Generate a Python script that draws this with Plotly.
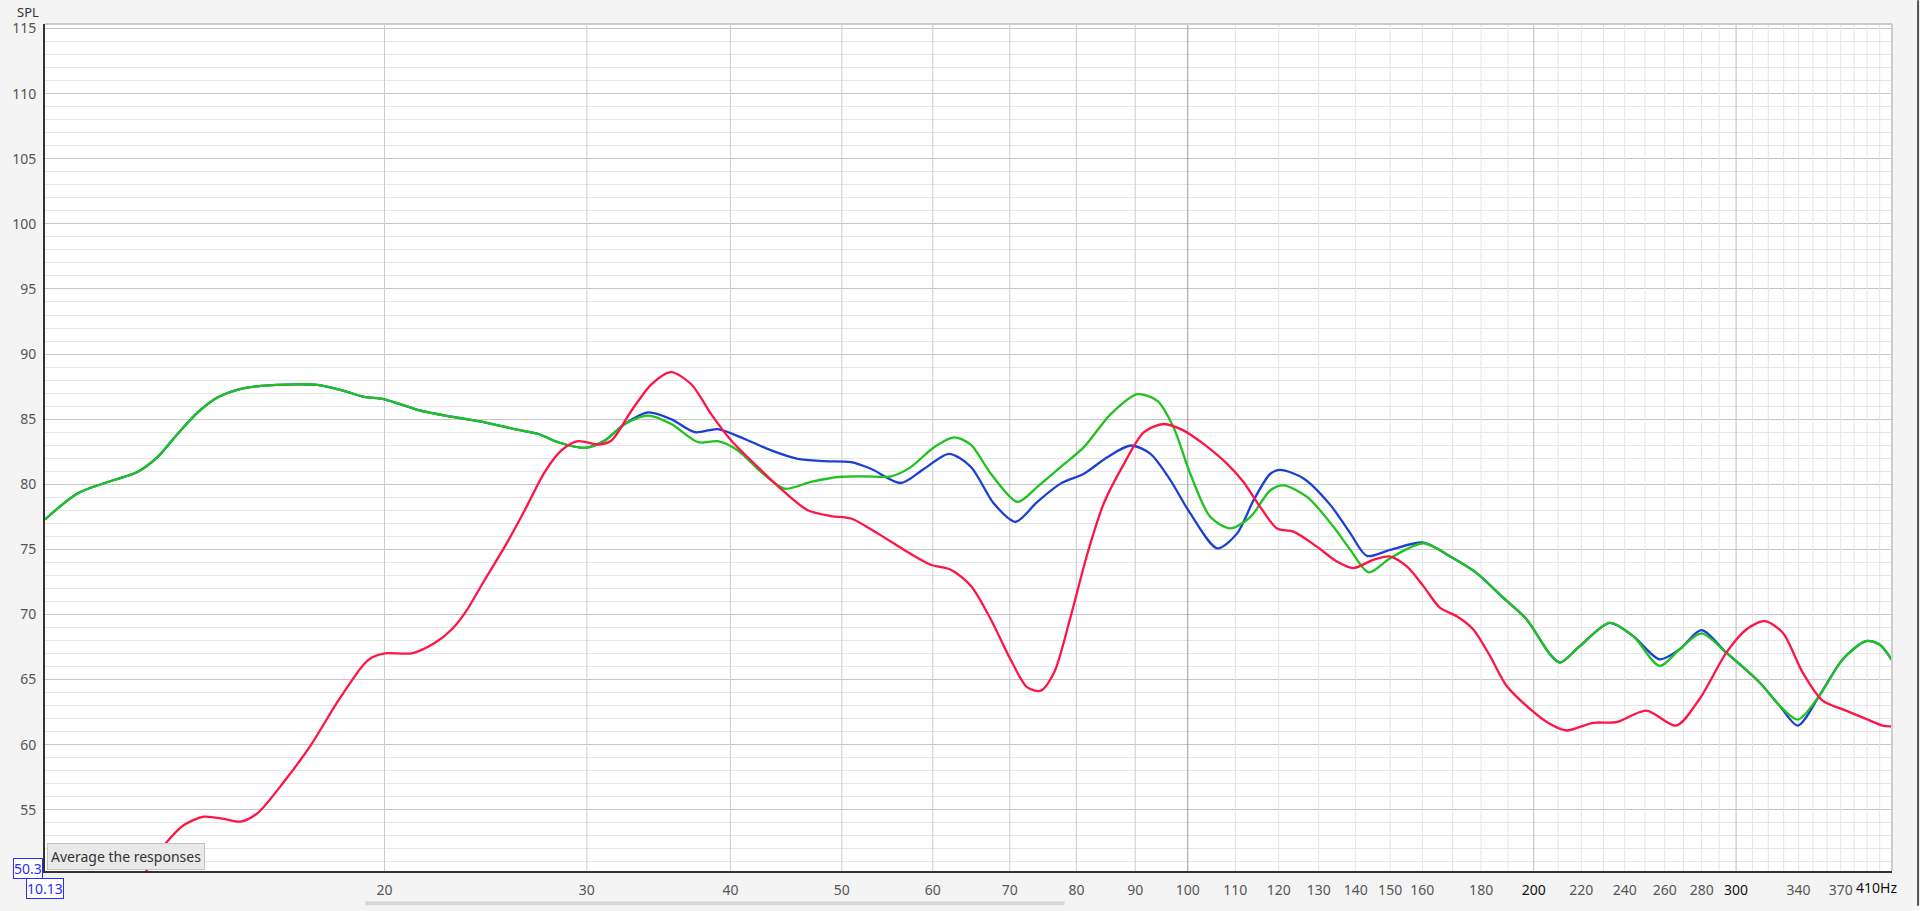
import math
import plotly.graph_objects as go

# ---------------- data ----------------
# shared low-frequency part of the blue and green responses
shared_freq = [10.13, 10.81, 11.56, 12.19, 12.69, 13.21, 13.75, 14.31, 14.89, 15.61,
               16.79, 17.48, 18.44, 19.19, 20.0, 21.41, 22.88, 24.45, 26.15, 27.22,
               28.32, 29.88, 31.1, 32.36]
shared_db = [77.3, 79.3, 80.25, 80.94, 82.08, 83.86, 85.5, 86.66, 87.25, 87.56,
             87.68, 87.63, 87.18, 86.72, 86.53, 85.7, 85.19, 84.76, 84.17, 83.86,
             83.23, 82.8, 83.36, 84.63]

blue_freq = [33.91, 35.52, 37.24, 39.0, 41.15, 43.4, 45.78, 48.3, 50.93, 53.0,
             56.28, 58.97, 61.97, 64.74, 67.8, 70.8, 73.97, 77.5, 81.2, 85.1,
             89.2, 92.8, 96.6, 100.5, 106.1, 110.4, 114.1, 118.0, 120.4, 126.2,
             133.1, 138.5, 143.2, 150.0, 160.4, 169.2, 178.4, 188.2, 197.2, 206.6,
             210.8, 219.4, 232.9, 244.0, 257.4, 267.9, 279.8, 294.2, 314.5, 327.3,
             339.5, 354.5, 371.5, 389.2, 399.6, 410.0]
blue_db = [85.52, 85.0, 84.0, 84.24, 83.48, 82.6, 81.95, 81.78, 81.7, 81.19,
           80.1, 81.19, 82.34, 81.35, 78.52, 77.12, 78.65, 80.05, 80.81, 82.08,
           82.98, 82.34, 80.3, 77.76, 75.08, 76.23, 78.78, 80.81, 81.11, 80.43,
           78.4, 76.23, 74.5, 74.96, 75.52, 74.45, 73.18, 71.27, 69.62, 66.95,
           66.31, 67.58, 69.36, 68.35, 66.56, 67.33, 68.8, 67.07, 64.78, 63.0,
           61.47, 63.77, 66.56, 67.96, 67.71, 66.5]

green_freq = [33.91, 35.52, 37.49, 39.0, 40.6, 42.54, 44.57, 47.0, 49.6, 52.3,
              55.2, 57.4, 60.15, 62.6, 64.74, 67.4, 71.1, 73.97, 77.5, 81.2,
              85.7, 90.4, 94.1, 97.2, 100.5, 104.6, 108.9, 113.4, 118.0, 121.1,
              127.0, 133.9, 138.5, 143.7, 150.0, 160.4, 169.2, 178.4, 188.2, 197.2,
              206.6, 210.8, 219.4, 232.9, 244.0, 257.4, 267.9, 279.8, 294.2, 314.5,
              327.3, 339.5, 354.5, 371.5, 389.2, 399.6, 410.0]
green_db = [85.27, 84.63, 83.23, 83.31, 82.6, 80.94, 79.66, 80.18, 80.56, 80.61,
            80.61, 81.32, 82.85, 83.61, 83.05, 80.81, 78.65, 79.8, 81.32, 82.85,
            85.39, 86.92, 86.41, 84.37, 80.81, 77.5, 76.61, 77.5, 79.54, 79.92,
            79.03, 76.74, 74.96, 73.23, 74.32, 75.47, 74.45, 73.18, 71.27, 69.62,
            66.95, 66.31, 67.58, 69.36, 68.35, 66.05, 67.33, 68.55, 67.07, 64.78,
            63.0, 61.93, 63.77, 66.56, 67.96, 67.71, 66.5]

red_freq = [11.6, 12.3, 12.93, 13.39, 13.93, 14.5, 14.99, 15.5, 16.35, 17.25,
            18.19, 19.19, 19.5, 20.0, 21.12, 22.13, 22.88, 23.5, 24.45, 25.45,
            26.49, 27.57, 28.51, 29.48, 30.69, 31.51, 32.8, 34.14, 35.5, 36.98,
            38.48, 40.06, 42.26, 44.57, 46.7, 48.93, 50.93, 53.71, 56.65, 59.76,
            62.2, 64.74, 67.4, 70.1, 72.5, 74.5, 76.5, 79.1, 81.8, 84.5,
            88.0, 91.6, 95.3, 99.2, 103.2, 108.2, 111.8, 115.6, 119.6, 123.6,
            129.5, 134.8, 139.3, 145.0, 150.0, 155.1, 160.4, 165.8, 171.4, 177.2,
            183.2, 189.4, 198.5, 206.5, 213.5, 225.2, 236.0, 250.6, 266.1, 278.8,
            294.2, 306.2, 317.6, 329.4, 342.8, 356.8, 373.9, 389.2, 402.3, 410.0]
red_db = [46.5, 49.8, 52.52, 53.85, 54.47, 54.3, 54.09, 54.73, 57.15, 59.95,
          63.25, 66.18, 66.69, 67.02, 67.02, 67.83, 68.85, 70.12, 72.67, 75.21,
          78.01, 80.94, 82.6, 83.31, 83.05, 83.36, 85.65, 87.68, 88.62, 87.68,
          85.39, 83.36, 81.32, 79.41, 78.01, 77.56, 77.37, 76.23, 74.96, 73.82,
          73.44, 72.2, 69.62, 66.56, 64.4, 64.15, 65.54, 69.87, 74.7, 78.52,
          81.57, 84.0, 84.63, 84.12, 83.1, 81.57, 80.18, 78.27, 76.6, 76.36,
          75.21, 74.07, 73.56, 74.2, 74.45, 73.69, 72.16, 70.5, 69.87, 68.85,
          66.82, 64.53, 62.75, 61.6, 61.09, 61.68, 61.73, 62.62, 61.47, 63.51,
          67.07, 68.85, 69.49, 68.6, 65.54, 63.38, 62.62, 61.98, 61.47, 61.4]

# axis ticks / grid positions
x_tick_vals = [20, 30, 40, 50, 60, 70, 80, 90, 100, 110, 120, 130, 140, 150, 160,
               180, 200, 220, 240, 260, 280, 300, 340, 370]
x_tick_strong = [200, 300]
grid_mid = [20, 30, 40, 50, 60, 70, 80, 90]
grid_dark = [100]
grid_semidark = [200, 300]
grid_light = [110, 120, 130, 140, 150, 160, 170, 180, 190,
              210, 220, 230, 240, 250, 260, 270, 280, 290,
              310, 320, 330, 340, 350, 360, 370, 380, 390, 400]

X_MIN, X_MAX = 10.13, 410.0
Y_MIN, Y_MAX = 50.3, 115.35

RED = "#ff1446"
BLUE = "#1c3fd4"
GREEN = "#1ec31e"
FONT = "Noto Sans"

fig = go.Figure()


def grid_trace(freqs, color, width=1):
    xs, ys = [], []
    for f in freqs:
        xs += [f, f, None]
        ys += [Y_MIN, Y_MAX, None]
    return go.Scatter(x=xs, y=ys, mode="lines", line=dict(color=color, width=width),
                      hoverinfo="skip", showlegend=False)


fig.add_trace(grid_trace(grid_light, "#e4e4e4"))
fig.add_trace(grid_trace(grid_mid, "#cdcdcd"))
fig.add_trace(grid_trace(grid_semidark, "#bdbdbd"))
fig.add_trace(grid_trace(grid_dark, "#9a9a9a"))

fig.add_trace(go.Scatter(x=shared_freq + blue_freq, y=shared_db + blue_db, mode="lines",
                         line=dict(color=BLUE, width=2.3, shape="spline", smoothing=0.8),
                         showlegend=False, name="blue"))
fig.add_trace(go.Scatter(x=shared_freq + green_freq, y=shared_db + green_db, mode="lines",
                         line=dict(color=GREEN, width=2.3, shape="spline", smoothing=0.8),
                         showlegend=False, name="green"))
fig.add_trace(go.Scatter(x=red_freq, y=red_db, mode="lines",
                         line=dict(color=RED, width=2.3, shape="spline", smoothing=0.8),
                         showlegend=False, name="red"))

tick_text = []
for v in x_tick_vals:
    if v in x_tick_strong:
        tick_text.append('<span style="color:#111111">%d</span>' % v)
    else:
        tick_text.append(str(v))

fig.update_xaxes(
    type="log", range=[math.log10(X_MIN), math.log10(X_MAX)],
    tickmode="array", tickvals=x_tick_vals, ticktext=tick_text,
    showgrid=False, zeroline=False,
    showline=True, linecolor="#333333", linewidth=2,
    ticks="outside", ticklen=5, tickcolor="rgba(0,0,0,0)",
    tickfont=dict(family=FONT, size=14, color="#555555"),
)
fig.update_yaxes(
    range=[Y_MIN, Y_MAX], tickmode="linear", tick0=0, dtick=5,
    showgrid=True, gridcolor="#c6c6c6", gridwidth=1, zeroline=False,
    minor=dict(tickmode="linear", tick0=0, dtick=1, showgrid=True,
               gridcolor="#e6e6e6", gridwidth=1),
    showline=True, linecolor="#333333", linewidth=2,
    ticks="outside", ticklen=4, tickcolor="rgba(0,0,0,0)",
    tickfont=dict(family=FONT, size=14, color="#555555"),
)

fig.update_layout(
    width=1920, height=911,
    margin=dict(l=42, r=28, t=24, b=34, pad=0),
    paper_bgcolor="#f4f4f4", plot_bgcolor="#ffffff",
    showlegend=False,
    font=dict(family=FONT, size=13, color="#555555"),
    shapes=[
        dict(type="line", xref="paper", yref="paper", x0=0, x1=1, y0=1, y1=1,
             line=dict(color="#cccccc", width=2), layer="above"),
        dict(type="line", xref="paper", yref="paper", x0=1, x1=1, y0=0, y1=1,
             line=dict(color="#cccccc", width=2), layer="above"),
        # scrollbar thumb under the axis
        dict(type="rect", xref="paper", yref="paper", x0=0.1735, x1=0.552,
             y0=-0.0405, y1=-0.0357, line=dict(width=0), fillcolor="#d8d8d8"),
        # window edge line on the right
        dict(type="line", xref="paper", yref="paper", x0=1.0141, x1=1.0141,
             y0=-0.041, y1=1.028, line=dict(color="#555555", width=2)),
    ],
    annotations=[
        dict(text="SPL", xref="paper", yref="paper", x=0, y=1, xanchor="right",
             yanchor="middle", xshift=-4, yshift=12, showarrow=False,
             font=dict(family=FONT, size=13, color="#333333")),
        dict(text="410Hz", xref="paper", yref="paper", x=1, y=0, xanchor="right",
             yanchor="top", xshift=7, yshift=-5, showarrow=False,
             font=dict(family=FONT, size=14, color="#111111")),
        dict(text="Average the responses", xref="paper", yref="paper", x=0, y=0,
             xanchor="left", yanchor="bottom", xshift=2, yshift=1, showarrow=False,
             bgcolor="#e9e9e9", bordercolor="#c4c4c4", borderwidth=1, borderpad=3,
             font=dict(family=FONT, size=14, color="#333333")),
        dict(text="50.3", xref="paper", yref="paper", x=0, y=0, xanchor="right",
             yanchor="middle", xshift=-2, yshift=3, showarrow=False,
             bgcolor="#ffffff", bordercolor="#2b2bff", borderwidth=1, borderpad=0,
             font=dict(family=FONT, size=14, color="#2b2bff")),
        dict(text="10.13", xref="paper", yref="paper", x=0, y=0, xanchor="center",
             yanchor="middle", xshift=0, yshift=-17, showarrow=False,
             bgcolor="#ffffff", bordercolor="#2b2bff", borderwidth=1, borderpad=0,
             font=dict(family=FONT, size=14, color="#2b2bff")),
    ],
)

fig.write_html(
    "out.html",
    config={"displayModeBar": False},
    post_script="document.body.style.margin='0';document.body.style.padding='0';"
                "document.body.style.overflow='hidden';",
)
